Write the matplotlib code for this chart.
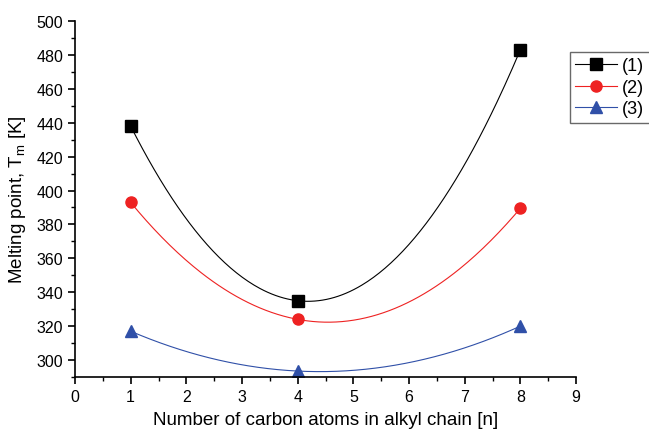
import numpy as np
import matplotlib
matplotlib.use("Agg")
import matplotlib.pyplot as plt
from matplotlib.ticker import MultipleLocator

n = [1, 4, 8]
s1 = [438, 335, 483]
s2 = [393, 324, 389.5]
s3 = [317, 293.5, 320]
labels = ["(1)", "(2)", "(3)"]
colors = ["black", "#ee2222", "#3050a8"]
markers = ["s", "o", "^"]

plt.rcParams["font.family"] = ["Liberation Sans", "DejaVu Sans"]
fig = plt.figure(figsize=(6.49, 4.31), dpi=100)
ax = fig.add_axes([75/649, 1-378/431, (576-75)/649, (378-22)/431])

handles = []
for ys, lab, c, m in zip([s1, s2, s3], labels, colors, markers):
    coef = np.polyfit(n, ys, 2)
    xs = np.linspace(n[0], n[-1], 200)
    ax.plot(xs, np.polyval(coef, xs), color=c, lw=0.8)
    ax.plot(n, ys, linestyle="none", marker=m, color=c, ms=8)
    h, = ax.plot([], [], color=c, lw=0.8, marker=m, ms=8)
    handles.append(h)

ax.set_xlim(0, 9)
ax.set_ylim(290, 500)
ax.xaxis.set_major_locator(MultipleLocator(1))
ax.xaxis.set_minor_locator(MultipleLocator(0.5))
ax.yaxis.set_major_locator(MultipleLocator(20))
ax.yaxis.set_minor_locator(MultipleLocator(10))
for sp in ["top", "right"]:
    ax.spines[sp].set_visible(False)
for sp in ["left", "bottom"]:
    ax.spines[sp].set_linewidth(1.2)
ax.tick_params(which="major", direction="out", length=5, width=1.2, labelsize=11.5)
ax.tick_params(which="minor", direction="out", length=3, width=1.0)
ax.set_xlabel("Number of carbon atoms in alkyl chain [n]", fontsize=13.5, labelpad=5)
ax.set_ylabel("Melting point, T$_\\mathregular{m}$ [K]", fontsize=13.5, labelpad=6)

leg = fig.legend(handles, labels, loc="upper left", bbox_to_anchor=(570/649, 1-53/431),
                 frameon=True, fancybox=False, edgecolor="#444444", fontsize=13,
                 handlelength=2.3, handletextpad=0.3, borderpad=0.3, labelspacing=0.25,
                 borderaxespad=0)
leg.get_frame().set_linewidth(1.0)

fig.savefig("out.png", dpi=100)
